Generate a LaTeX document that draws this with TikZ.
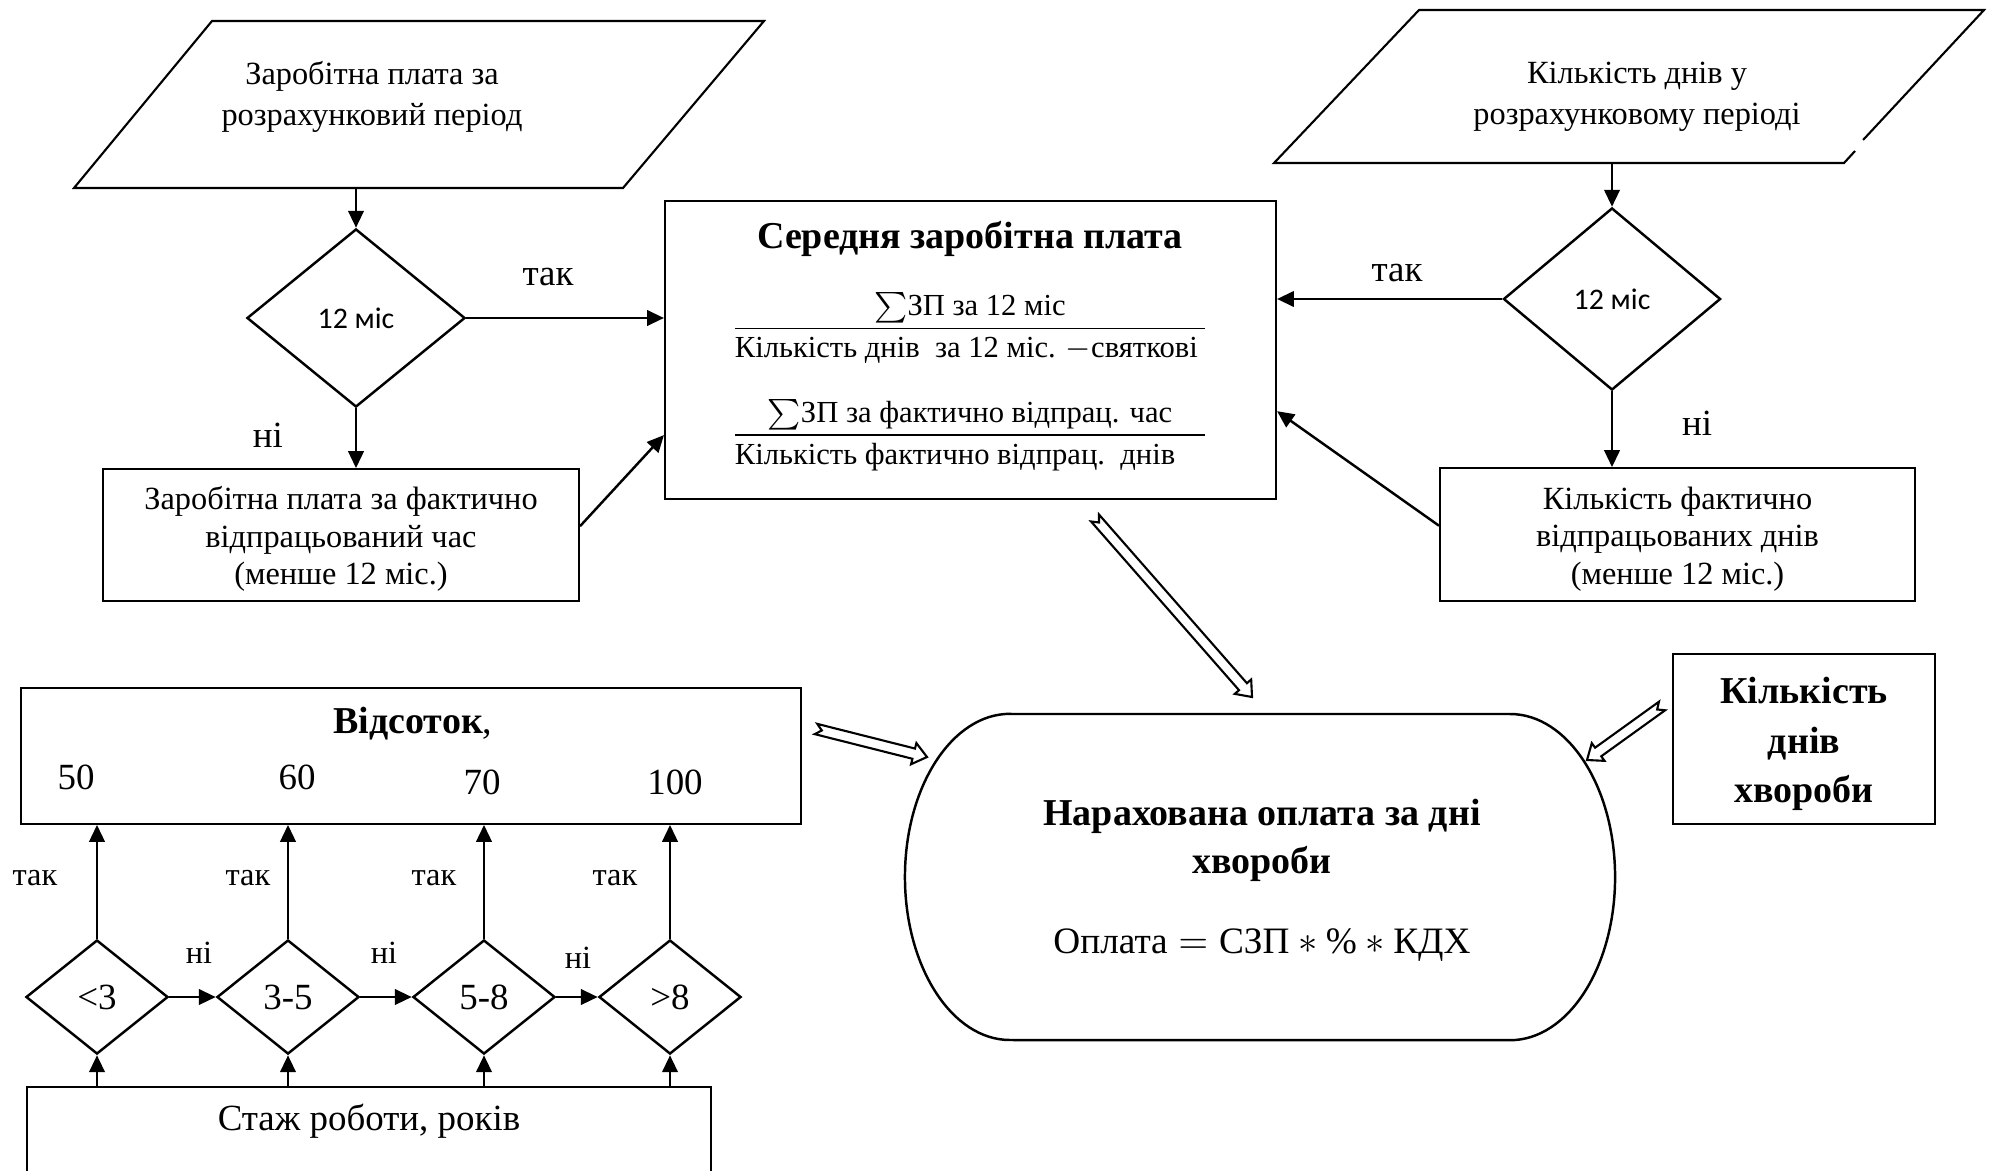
\documentclass[tikz,border=0pt]{standalone}
\usepackage{amsmath,amssymb}
\usepackage{fontspec}
\setmainfont{Liberation Serif}
\newfontfamily\calfont{Carlito}
\usetikzlibrary{shapes.geometric,arrows.meta,calc}

\newcommand{\hollowarrow}[2]{%
  \coordinate (#1-h) at ($(#2)!3.9pt!(#1)$);
  \coordinate (#1-n) at ($(#1)!1.7pt!(#2)$);
  \path[draw,fill=white,line width=0.6pt,line join=miter]
  ($(#1)!1.5pt!90:(#2)$)--($(#1-h)!1.5pt!90:(#2)$)--($(#1-h)!3.1pt!90:(#2)$)--(#2)
  --($(#1-h)!3.1pt!-90:(#2)$)--($(#1-h)!1.5pt!-90:(#2)$)--($(#1)!1.5pt!-90:(#2)$)--(#1-n)--cycle;}

\begin{document}
\begin{tikzpicture}[x=0.01cm,y=-0.01cm,
  txt/.style={font=\fontsize{9.2}{10.6}\selectfont,align=center},
  ptxt/.style={font=\fontsize{9.2}{11.7}\selectfont,align=center},
  lbl/.style={font=\fontsize{10.5}{12}\selectfont},
  sml/.style={font=\fontsize{9.2}{11}\selectfont},
  box/.style={draw,rectangle,line width=0.5pt,inner sep=0pt},
  dec/.style={draw,diamond,line width=0.7pt,inner sep=0pt},
  arr/.style={-{Triangle[length=4.8pt,width=4.4pt]},line width=0.7pt}]
  \useasboundingbox (0,0) rectangle (1995,1170);
  \clip (0,0) rectangle (1995,1170);
  %\draw[help lines,step=100] (0,0) grid (1995,1170);

  % earnings of the period
  \path[draw,line width=0.6pt] (212,21)--(764,21)--(623,188)--(74,188)--cycle;
  \node[ptxt] (zp) at (372,97) {Заробітна плата за\\розрахунковий період};
  \coordinate (zp-out) at (356,188);
  \node[dec,minimum width=2.18cm,minimum height=1.78cm,font=\calfont\fontsize{8.5}{10}\selectfont] (d1) at (356,318) {12 міс};
  \node[box,minimum width=4.76cm,minimum height=1.32cm] (lbox) at (341,535) {};
  \node[txt] (ltxt) at (341,539) {Заробітна плата за фактично\\відпрацьований час\\(менше 12 міс.)};
  \node[lbl] (t1) at (548,277) {так};
  \node[lbl] (n1) at (268,435) {ні};

  % average wage
  \node[box,minimum width=6.11cm,minimum height=2.98cm] (mbox) at (970.5,350) {};
  \node[font=\bfseries\fontsize{10.8}{13}\selectfont] (mtitle) at (970,239) {Середня заробітна плата};
  \node[font=\fontsize{8.7}{10}\selectfont] (f1) at (970,328)
    {$\dfrac{{\textstyle\sum}\text{ЗП за 12 міс}}{\makebox[4.7cm][l]{Кількість днів\ \ за 12 міс. $-$святкові}}$};
  \node[font=\fontsize{8.7}{10}\selectfont] (f2) at (970,435)
    {$\dfrac{{\textstyle\sum}\text{ЗП за фактично відпрац. час}}{\makebox[4.7cm][l]{Кількість фактично відпрац.\ \ днів}}$};

  % days of the period
  \path[draw,line width=0.6pt] (1863,140)--(1984,10)--(1419,10)--(1274,163)--(1844,163)--(1855,151);
  \node[ptxt] (kd) at (1637,97) {Кількість днів у\\розрахунковому періоді};
  \coordinate (kd-out) at (1612,163);
  \node[dec,minimum width=2.17cm,minimum height=1.82cm,font=\calfont\fontsize{8.5}{10}\selectfont] (d2) at (1612,299) {12 міс};
  \node[box,minimum width=4.75cm,minimum height=1.33cm] (rbox) at (1677.5,534.5) {};
  \node[txt] (rtxt) at (1677.5,539) {Кількість фактично\\відпрацьованих днів\\(менше 12 міс.)};
  \node[lbl] (t2) at (1397,273) {так};
  \node[lbl] (n2) at (1697,423) {ні};

  \draw[arr] (zp-out) -- (d1.north);
  \draw[arr] (d1.east) -- (d1.east -| mbox.west);
  \draw[arr] (d1.south) -- (d1.south |- lbox.north);
  \draw[arr] ([yshift=2.5pt]lbox.east) -- ([yshift=-24.2pt]mbox.west);
  \draw[arr] (kd-out) -- (d2.north);
  \draw[arr] (d2.west) -- (d2.west -| mbox.east);
  \draw[arr] (d2.south) -- (d2.south |- rbox.north);
  \draw[arr] ([yshift=2.5pt]rbox.west) -- ([yshift=-17.4pt]mbox.east);

  % percentage by length of service
  \node[box,minimum width=7.80cm,minimum height=1.36cm] (pbox) at (411,756) {};
  \node[font=\fontsize{10.8}{13}\selectfont] (ptitle) at (413,724) {\textbf{Відсоток},};
  \node[lbl] (p50) at (76,777) {50};
  \node[lbl] (p60) at (297,777) {60};
  \node[lbl] (p70) at (482,782) {70};
  \node[lbl] (p100) at (675,782) {100};
  \node[dec,minimum width=1.42cm,minimum height=1.14cm,lbl] (s1) at (97,997) {<3};
  \node[dec,minimum width=1.42cm,minimum height=1.14cm,lbl] (s2) at (288,997) {3-5};
  \node[dec,minimum width=1.42cm,minimum height=1.14cm,lbl] (s3) at (484,997) {5-8};
  \node[dec,minimum width=1.42cm,minimum height=1.14cm,lbl] (s4) at (670,997) {>8};
  \node[box,minimum width=6.84cm,minimum height=1.3cm,anchor=north] (sbox) at (369,1086) {};
  \node[font=\fontsize{10.5}{12}\selectfont] (stxt) at (369,1121) {Стаж роботи, років};
  \node[sml] (ty1) at (35,878) {так};
  \node[sml] (ty2) at (248,878) {так};
  \node[sml] (ty3) at (434,878) {так};
  \node[sml] (ty4) at (615,878) {так};
  \node[sml] (no1) at (199,953) {ні};
  \node[sml] (no2) at (384,953) {ні};
  \node[sml] (no3) at (578,958) {ні};

  \draw[arr] (s1.north) -- (s1.north |- pbox.south);
  \draw[arr] (s2.north) -- (s2.north |- pbox.south);
  \draw[arr] (s3.north) -- (s3.north |- pbox.south);
  \draw[arr] (s4.north) -- (s4.north |- pbox.south);
  \draw[arr] (s1.south |- sbox.north) -- (s1.south);
  \draw[arr] (s2.south |- sbox.north) -- (s2.south);
  \draw[arr] (s3.south |- sbox.north) -- (s3.south);
  \draw[arr] (s4.south |- sbox.north) -- (s4.south);
  \draw[arr] (s1.east) -- (s2.west);
  \draw[arr] (s2.east) -- (s3.west);
  \draw[arr] (s3.east) -- (s4.west);

  % sick pay
  \node[box,minimum width=2.62cm,minimum height=1.70cm] (kbox) at (1804,739) {};
  \node[font=\bfseries\fontsize{10.8}{14}\selectfont,align=center] (ktxt) at (1804,744) {Кількість\\днів\\хвороби};
  \path[draw,line width=0.7pt] (1010,714) -- (1510,714)
    arc[start angle=90,end angle=-90,x radius=1.05cm,y radius=1.63cm] -- (1010,1040)
    arc[start angle=270,end angle=90,x radius=1.05cm,y radius=1.63cm] -- cycle;
  \node[font=\bfseries\fontsize{10.8}{13.7}\selectfont,align=center] (pay) at (1262,840)
    {Нарахована оплата за дні\\хвороби};
  \node[font=\fontsize{10.6}{13}\selectfont] (payf) at (1262,945)
    {$\text{Оплата}=\text{СЗП}\ast\%\ast\text{КДХ}$};

  \coordinate (ha1) at (1095,518); \coordinate (hb1) at (1252,697);
  \coordinate (ha2) at (816,729); \coordinate (hb2) at (927,757);
  \coordinate (ha3) at (1662,706); \coordinate (hb3) at (1587,760);
  \hollowarrow{ha1}{hb1}
  \hollowarrow{ha2}{hb2}
  \hollowarrow{ha3}{hb3}
\end{tikzpicture}
\end{document}
